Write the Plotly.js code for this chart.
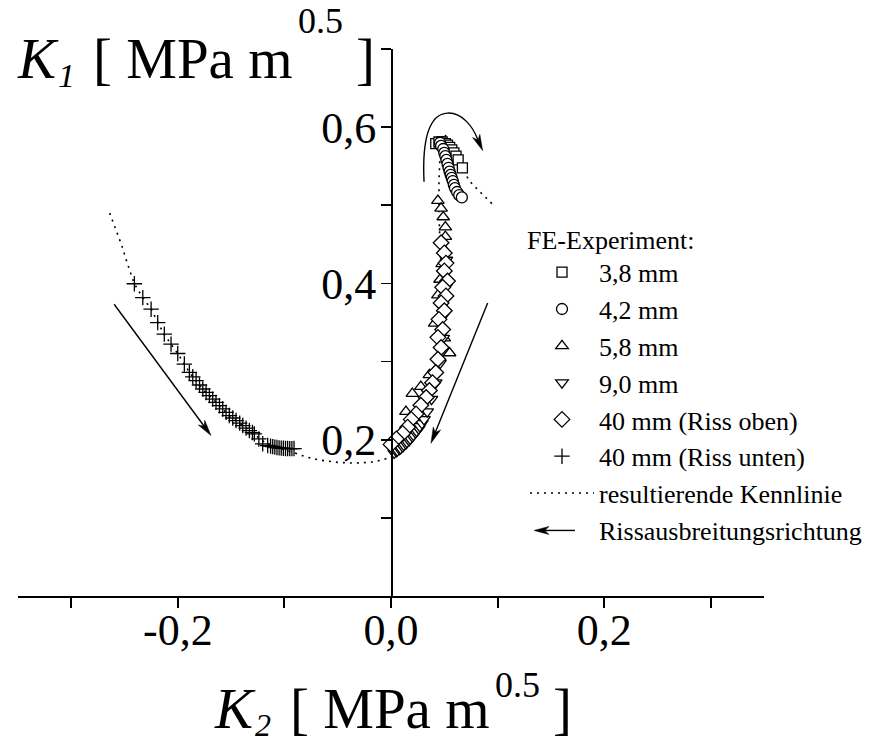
<!DOCTYPE html>
<html>
<head>
<meta charset="utf-8">
<script src="https://cdn.plot.ly/plotly-3.0.1.min.js"></script>
<style>
  html, body { margin: 0; padding: 0; background: #fff; }
  #chart { width: 874px; height: 745px; }
</style>
</head>
<body>
<div id="chart"></div>
<script>
// ---- measured stress-intensity paths (K2, K1) in MPa m^0.5 ----
const crack38_x = [0.042, 0.045, 0.048, 0.051, 0.053, 0.055, 0.057, 0.059, 0.061, 0.063, 0.067];
const crack38_y = [0.579, 0.581, 0.581, 0.579, 0.577, 0.574, 0.571, 0.567, 0.563, 0.558, 0.548];

const crack42_x = [0.046, 0.047, 0.049, 0.050, 0.051, 0.052, 0.053, 0.054, 0.055, 0.056, 0.057, 0.058, 0.059, 0.060, 0.062, 0.064, 0.0665];
const crack42_y = [0.580, 0.576, 0.572, 0.567, 0.563, 0.558, 0.553, 0.548, 0.543, 0.539, 0.535, 0.531, 0.526, 0.522, 0.517, 0.513, 0.510];

const crack58_x = [0.044, 0.047, 0.049, 0.051, 0.051, 0.050, 0.048, 0.046, 0.044, 0.041, 0.050, 0.055, 0.036, 0.028, 0.020, 0.014, 0.009];
const crack58_y = [0.506, 0.496, 0.485, 0.472, 0.460, 0.443, 0.425, 0.405, 0.385, 0.349, 0.330, 0.311, 0.283, 0.268, 0.259, 0.236, 0.208];

const crack90_x = [0.003, 0.005, 0.006, 0.008, 0.009, 0.011, 0.012, 0.014, 0.015, 0.017, 0.018, 0.020, 0.021, 0.023, 0.024, 0.026, 0.027, 0.029, 0.031, 0.034, 0.038, 0.042, 0.046, 0.049, 0.051, 0.052, 0.052];
const crack90_y = [0.183, 0.185, 0.186, 0.188, 0.189, 0.191, 0.193, 0.195, 0.197, 0.199, 0.201, 0.204, 0.206, 0.209, 0.211, 0.214, 0.217, 0.221, 0.226, 0.236, 0.252, 0.273, 0.298, 0.330, 0.362, 0.396, 0.430];

const crack40top_x = [0.047, 0.050, 0.0516, 0.050, 0.053, 0.0485, 0.0516, 0.047, 0.050, 0.045, 0.0485, 0.044, 0.047, 0.044, 0.042, 0.039, 0.036, 0.033, 0.028, 0.0235, 0.019, 0.0156, 0.011, 0.005, 0.000];
const crack40top_y = [0.452, 0.439, 0.426, 0.416, 0.403, 0.395, 0.384, 0.375, 0.365, 0.354, 0.341, 0.331, 0.318, 0.303, 0.286, 0.273, 0.263, 0.254, 0.244, 0.233, 0.226, 0.216, 0.208, 0.201, 0.194];

const crack40bot_x = [-0.2408, -0.2329, -0.2251, -0.2189, -0.2127, -0.2064, -0.2001, -0.1939, -0.1892, -0.1860, -0.1829, -0.1797, -0.1766, -0.1735, -0.1704, -0.1673, -0.1642, -0.1610, -0.1579, -0.1548, -0.1517, -0.1485, -0.1454, -0.1420, -0.1391, -0.1360, -0.1329, -0.1300, -0.1282, -0.1240, -0.1204, -0.1157, -0.1130, -0.1110, -0.1090, -0.1070, -0.1050, -0.1030, -0.1010, -0.0990, -0.0970, -0.0950, -0.0930, -0.0910];
const crack40bot_y = [0.3996, 0.3818, 0.3670, 0.3499, 0.3351, 0.3223, 0.3103, 0.2968, 0.2861, 0.2805, 0.2755, 0.2700, 0.2649, 0.2605, 0.2564, 0.2520, 0.2478, 0.2435, 0.2394, 0.2350, 0.2309, 0.2278, 0.2245, 0.2212, 0.2181, 0.2148, 0.2117, 0.2092, 0.2075, 0.2010, 0.1948, 0.1926, 0.1918, 0.1912, 0.1905, 0.1900, 0.1895, 0.1892, 0.1890, 0.1888, 0.1887, 0.1886, 0.1886, 0.1887];

// resulting characteristic curve
const curve_x = [-0.264, -0.259, -0.253, -0.247, -0.241, -0.233, -0.225, -0.213, -0.200, -0.189, -0.177, -0.164, -0.152, -0.139, -0.128, -0.118, -0.105, -0.092, -0.080, -0.067, -0.050, -0.035, -0.020, -0.008, 0.000, 0.008, 0.016, 0.024, 0.031, 0.038, 0.043, 0.046, 0.047, 0.047, 0.046, 0.045, 0.045, 0.046, 0.048, 0.052, 0.057, 0.062, 0.066, 0.073, 0.080, 0.087, 0.094, 0.097];
const curve_y = [0.490, 0.471, 0.450, 0.424, 0.400, 0.382, 0.367, 0.335, 0.310, 0.286, 0.265, 0.248, 0.231, 0.218, 0.207, 0.196, 0.189, 0.184, 0.178, 0.174, 0.171, 0.170, 0.171, 0.174, 0.178, 0.186, 0.197, 0.212, 0.232, 0.258, 0.290, 0.330, 0.370, 0.410, 0.450, 0.490, 0.530, 0.565, 0.585, 0.590, 0.582, 0.568, 0.552, 0.532, 0.522, 0.513, 0.503, 0.499];

// series names and axis tick labels
const seriesNames = ['3,8 mm', '4,2 mm', '5,8 mm', '9,0 mm', '40 mm (Riss oben)', '40 mm (Riss unten)', 'resultierende Kennlinie', 'Rissausbreitungsrichtung'];
const xTickVals = [-0.3, -0.2, -0.1, 0, 0.1, 0.2, 0.3];
const xTickText = ['', '-0,2', '', '0,0', '', '0,2', ''];
const yTickVals = [0.1, 0.2, 0.3, 0.4, 0.5, 0.6, 0.7];
const yTickText = ['', '0,2', '', '0,4', '', '0,6', ''];

// ---- geometry ----
const W = 874, H = 745;
const M = { l: 18, r: 110, t: 49, b: 149, autoexpand: false };
const plotW = W - M.l - M.r, plotH = H - M.t - M.b;
const xRange = [-0.35, 0.35], yRange = [0, 0.7];
const kx = plotW / (xRange[1] - xRange[0]);
const ky = plotH / (yRange[1] - yRange[0]);
const SERIF = '"Liberation Serif", "Times New Roman", Times, serif';

// pixel -> paper helpers for free-standing text
const px2paperX = px => (px - M.l) / plotW;
const px2paperY = py => (H - M.b - py) / plotH;

// filled arrowhead (slightly notched) with tip at (tx,ty) and pixel direction (ux,uy), y pointing down
function headPath(tx, ty, ux, uy, sx, sy, L, Wd) {
  const nx = -uy, ny = ux;
  const bx = -L * ux, by = -L * uy;
  const pts = [
    [0, 0],
    [bx + nx * Wd / 2, by + ny * Wd / 2],
    [-0.72 * L * ux, -0.72 * L * uy],
    [bx - nx * Wd / 2, by - ny * Wd / 2]
  ].map(([dx, dy]) => [tx + dx / sx, ty - dy / sy]);
  return 'M' + pts.map(p => p[0].toFixed(5) + ',' + p[1].toFixed(5)).join(' L') + ' Z';
}

function straightArrow(from, to) {
  const dx = (to[0] - from[0]) * kx, dy = -(to[1] - from[1]) * ky;
  const len = Math.hypot(dx, dy), ux = dx / len, uy = dy / len;
  const L = 16, Wd = 8;
  const endX = to[0] - 0.7 * L * ux / kx, endY = to[1] + 0.7 * L * uy / ky;
  return [
    { type: 'line', xref: 'x', yref: 'y', x0: from[0], y0: from[1], x1: endX, y1: endY,
      line: { color: 'black', width: 1.4 } },
    { type: 'path', xref: 'x', yref: 'y', path: headPath(to[0], to[1], ux, uy, kx, ky, L, Wd),
      fillcolor: 'black', line: { color: 'black', width: 0.5 } }
  ];
}

// curved arrow around the top of the loop
function curvedArrow() {
  const tip = [0.086, 0.570];
  const prev = [0.0805, 0.587];
  const dx = (tip[0] - prev[0]) * kx, dy = -(tip[1] - prev[1]) * ky;
  const len = Math.hypot(dx, dy), ux = dx / len, uy = dy / len;
  return [
    { type: 'path', xref: 'x', yref: 'y',
      path: 'M0.031,0.530 C0.029,0.585 0.036,0.617 0.053,0.618 C0.067,0.619 0.077,0.600 0.0815,0.584',
      line: { color: 'black', width: 1.4 } },
    { type: 'path', xref: 'x', yref: 'y', path: headPath(tip[0], tip[1], ux, uy, kx, ky, 16, 8),
      fillcolor: 'black', line: { color: 'black', width: 0.5 } }
  ];
}

const shapes = [
  ...straightArrow([-0.2598, 0.3733], [-0.1689, 0.2054]),
  ...straightArrow([0.0907, 0.3750], [0.0375, 0.1955]),
  ...curvedArrow()
];

// ---- traces ----
function markerTrace(x, y, name, symbol, size, rank) {
  const open = symbol.indexOf('open') >= 0;
  return {
    type: 'scatter', mode: 'markers', x, y, name, legendrank: rank,
    marker: {
      symbol, size,
      color: open ? 'black' : 'white',
      line: { color: 'black', width: 1.3 }
    },
    cliponaxis: false
  };
}

const traces = [
  { type: 'scatter', mode: 'lines', x: curve_x, y: curve_y, name: seriesNames[6], legendrank: 7,
    line: { color: 'black', width: 1.6, dash: '2px,5px' } },
  markerTrace(crack38_x, crack38_y, seriesNames[0], 'square', 10, 1),
  markerTrace(crack42_x, crack42_y, seriesNames[1], 'circle', 11, 2),
  markerTrace(crack58_x, crack58_y, seriesNames[2], 'triangle-up', 11, 3),
  markerTrace(crack90_x, crack90_y, seriesNames[3], 'triangle-down', 11, 4),
  markerTrace(crack40top_x, crack40top_y, seriesNames[4], 'diamond', 12, 5),
  markerTrace(crack40bot_x, crack40bot_y, seriesNames[5], 'cross-thin-open', 11, 6),
  { type: 'scatter', mode: 'lines', x: [null], y: [null], name: seriesNames[7], legendrank: 8,
    line: { color: 'rgba(0,0,0,0)', width: 1.4 } }
];

// ---- axis titles, set piece by piece ----
function piece(text, xpx, basePx, size) {
  return {
    xref: 'paper', yref: 'paper',
    x: px2paperX(xpx), y: px2paperY(basePx - 0.3375 * size),
    xanchor: 'left', yanchor: 'middle', showarrow: false, text,
    font: { family: SERIF, size, color: 'black' }
  };
}
const TS = 57;
function axisTitle(x0, base, subBase, supBase, subText, subSize) {
  return [
    piece('<i>K</i>', x0, base, TS),
    piece('<i>' + subText + '</i>', x0 + 41, subBase, subSize),
    piece('[ MPa m', x0 + 76, base, TS),
    piece('0.5', x0 + 281, supBase, 36),
    piece(']', x0 + 339, base, TS)
  ];
}

const annotations = [
  ...axisTitle(15, 78, 87, 33, '1', 34),
  ...axisTitle(212, 728, 736, 697, '2', 32)
];

const tickFont = { family: SERIF, size: 44, color: 'black' };

const layout = {
  width: W, height: H,
  margin: M,
  paper_bgcolor: 'white', plot_bgcolor: 'white',
  showlegend: true,
  font: { family: SERIF, color: 'black' },
  xaxis: {
    range: xRange, showgrid: false, zeroline: false,
    showline: true, linecolor: 'black', linewidth: 2,
    ticks: 'outside', ticklen: 10, tickwidth: 2, tickcolor: 'black',
    tickmode: 'array', tickvals: xTickVals, ticktext: xTickText,
    ticklabelstandoff: -16,
    tickfont: tickFont, fixedrange: true
  },
  yaxis: {
    range: yRange, showgrid: false, zeroline: false,
    anchor: 'free', position: 0.5, side: 'left',
    showline: true, linecolor: 'black', linewidth: 1.6,
    ticks: 'outside', ticklen: 10, tickwidth: 1.6, tickcolor: 'black',
    tickmode: 'array', tickvals: yTickVals, ticktext: yTickText,
    ticklabelstandoff: -4,
    tickfont: tickFont, fixedrange: true
  },
  legend: {
    x: px2paperX(525), xanchor: 'left',
    y: px2paperY(215), yanchor: 'top',
    bgcolor: 'rgba(0,0,0,0)', borderwidth: 0,
    itemwidth: 64, tracegroupgap: 0,
    font: { family: SERIF, size: 26, color: 'black' },
    title: { text: 'FE-Experiment:', font: { family: SERIF, size: 26, color: 'black' } }
  },
  shapes,
  annotations
};

Plotly.newPlot('chart', traces, layout, { staticPlot: true, displayModeBar: false }).then(gd => {
  // draw the arrow sample in the legend row of the propagation-direction entry
  const rows = gd.querySelectorAll('.legend .traces');
  let row = null;
  rows.forEach(r => { if (r.textContent.indexOf(seriesNames[7]) >= 0) row = r; });
  if (!row) return;
  const txt = row.querySelector('text');
  const g = gd.getBoundingClientRect();
  const tb = txt.getBoundingClientRect();
  const cy = tb.top - g.top + tb.height / 2 - 1;
  const x1 = tb.left - g.left - 24, x0 = x1 - 41;
  const tipX = px2paperX(x0), tipY = px2paperY(cy);
  const extra = [
    { type: 'line', xref: 'paper', yref: 'paper',
      x0: px2paperX(x0 + 10), y0: tipY, x1: px2paperX(x1), y1: tipY,
      line: { color: 'black', width: 1.4 } },
    { type: 'path', xref: 'paper', yref: 'paper',
      path: headPath(tipX, tipY, -1, 0, plotW, plotH, 15, 8),
      fillcolor: 'black', line: { color: 'black', width: 0.5 } }
  ];
  return Plotly.relayout(gd, { shapes: shapes.concat(extra) });
});
</script>
</body>
</html>
